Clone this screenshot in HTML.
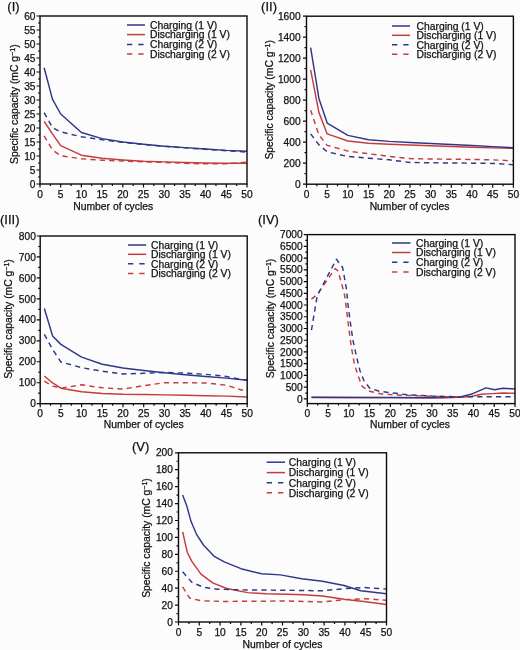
<!DOCTYPE html>
<html><head><meta charset="utf-8"><style>
html,body{margin:0;padding:0;background:#fcfcfc;-webkit-font-smoothing:antialiased;}
svg{display:block;will-change:transform;}
text{font-family:"Liberation Sans",sans-serif;fill:#111;stroke:#111;stroke-width:0.25px;}
</style></head><body>
<svg width="520" height="650" viewBox="0 0 520 650">
<rect width="520" height="650" fill="#fcfcfc"/>
<g><polyline points="44.14,121.28 52.42,133.88 60.7,145.64 81.4,155.16 102.1,158.24 122.8,159.92 143.5,161.32 164.2,161.88 184.9,162.44 205.6,163 226.3,163.28 247,163.28" fill="none" stroke="#c63c3c" stroke-width="1.45" stroke-linejoin="round"/><polyline points="44.14,67.8 52.42,99.16 60.7,114 81.4,132.48 102.1,138.64 122.8,142 143.5,144.24 164.2,146.2 184.9,147.6 205.6,149 226.3,150.4 247,151.24" fill="none" stroke="#303789" stroke-width="1.45" stroke-linejoin="round"/><polyline points="44.14,135.84 52.42,149.84 60.7,155.72 81.4,158.8 102.1,160.2 122.8,161.04 143.5,161.88 164.2,162.44 184.9,163.28 205.6,163.84 226.3,163.84 247,162.16" fill="none" stroke="#c63c3c" stroke-width="1.45" stroke-linejoin="round" stroke-dasharray="5.2,4.2"/><polyline points="44.14,112.6 52.42,127.44 60.7,131.92 81.4,136.68 102.1,139.76 122.8,142.28 143.5,144.52 164.2,146.2 184.9,147.88 205.6,149.28 226.3,150.68 247,152.08" fill="none" stroke="#303789" stroke-width="1.45" stroke-linejoin="round" stroke-dasharray="5.2,4.2"/><rect x="40" y="16" width="207" height="168" fill="none" stroke="#0a0a0a" stroke-width="1.4"/><path d="M40 184H36.5M40 177H38M40 170H36.5M40 163H38M40 156H36.5M40 149H38M40 142H36.5M40 135H38M40 128H36.5M40 121H38M40 114H36.5M40 107H38M40 100H36.5M40 93H38M40 86H36.5M40 79H38M40 72H36.5M40 65H38M40 58H36.5M40 51H38M40 44H36.5M40 37H38M40 30H36.5M40 23H38M40 16H36.5M40 184V187.5M50.35 184V186M60.7 184V187.5M71.05 184V186M81.4 184V187.5M91.75 184V186M102.1 184V187.5M112.45 184V186M122.8 184V187.5M133.15 184V186M143.5 184V187.5M153.85 184V186M164.2 184V187.5M174.55 184V186M184.9 184V187.5M195.25 184V186M205.6 184V187.5M215.95 184V186M226.3 184V187.5M236.65 184V186M247 184V187.5" stroke="#0a0a0a" stroke-width="1.2" fill="none"/><text x="35.5" y="187.62" text-anchor="end" font-size="10.2">0</text><text x="35.5" y="173.62" text-anchor="end" font-size="10.2">5</text><text x="35.5" y="159.62" text-anchor="end" font-size="10.2">10</text><text x="35.5" y="145.62" text-anchor="end" font-size="10.2">15</text><text x="35.5" y="131.62" text-anchor="end" font-size="10.2">20</text><text x="35.5" y="117.62" text-anchor="end" font-size="10.2">25</text><text x="35.5" y="103.62" text-anchor="end" font-size="10.2">30</text><text x="35.5" y="89.62" text-anchor="end" font-size="10.2">35</text><text x="35.5" y="75.62" text-anchor="end" font-size="10.2">40</text><text x="35.5" y="61.62" text-anchor="end" font-size="10.2">45</text><text x="35.5" y="47.62" text-anchor="end" font-size="10.2">50</text><text x="35.5" y="33.62" text-anchor="end" font-size="10.2">55</text><text x="35.5" y="19.62" text-anchor="end" font-size="10.2">60</text><text x="40" y="197.6" text-anchor="middle" font-size="10.2">0</text><text x="60.7" y="197.6" text-anchor="middle" font-size="10.2">5</text><text x="81.4" y="197.6" text-anchor="middle" font-size="10.2">10</text><text x="102.1" y="197.6" text-anchor="middle" font-size="10.2">15</text><text x="122.8" y="197.6" text-anchor="middle" font-size="10.2">20</text><text x="143.5" y="197.6" text-anchor="middle" font-size="10.2">25</text><text x="164.2" y="197.6" text-anchor="middle" font-size="10.2">30</text><text x="184.9" y="197.6" text-anchor="middle" font-size="10.2">35</text><text x="205.6" y="197.6" text-anchor="middle" font-size="10.2">40</text><text x="226.3" y="197.6" text-anchor="middle" font-size="10.2">45</text><text x="247" y="197.6" text-anchor="middle" font-size="10.2">50</text><text x="113.2" y="210" text-anchor="middle" font-size="10.35">Number of cycles</text><text transform="translate(17.9 104.2) rotate(-90)" text-anchor="middle" font-size="10.35">Specific capacity (mC g<tspan font-size="7.04" dy="-3.1">−1</tspan><tspan dy="3.1">)</tspan></text><text x="7.3" y="11.2" font-size="13">(I)</text><path d="M127 25H145" stroke="#303789" stroke-width="1.5"/><text x="150" y="28.73" font-size="10.35">Charging (1 V)</text><path d="M127 34.6H145" stroke="#c63c3c" stroke-width="1.5"/><text x="150" y="38.33" font-size="10.35">Discharging (1 V)</text><path d="M127 44.6H145" stroke="#303789" stroke-width="1.5" stroke-dasharray="5.3,6"/><text x="150" y="48.33" font-size="10.35">Charging (2 V)</text><path d="M127 54H145" stroke="#c63c3c" stroke-width="1.5" stroke-dasharray="5.3,6"/><text x="150" y="57.73" font-size="10.35">Discharging (2 V)</text></g>
<g><polyline points="310.64,69.85 318.91,112.38 327.19,133.9 347.88,141.04 368.57,143.25 389.26,144.19 409.95,145.03 430.64,145.77 451.33,146.5 472.02,147.24 492.71,147.87 513.4,148.29" fill="none" stroke="#c63c3c" stroke-width="1.45" stroke-linejoin="round"/><polyline points="310.64,47.7 318.91,98.41 327.19,123.09 347.88,135.38 368.57,139.68 389.26,141.36 409.95,142.41 430.64,143.46 451.33,144.51 472.02,145.56 492.71,146.61 513.4,147.76" fill="none" stroke="#303789" stroke-width="1.45" stroke-linejoin="round"/><polyline points="310.64,110.17 318.91,134.95 327.19,145.35 347.88,151.12 368.57,153.75 389.26,156.38 409.95,158.58 430.64,159 451.33,159.21 472.02,159.42 492.71,159.84 513.4,160.89" fill="none" stroke="#c63c3c" stroke-width="1.45" stroke-linejoin="round" stroke-dasharray="5.2,4.2"/><polyline points="310.64,133.9 318.91,144.72 327.19,151.86 347.88,156.48 368.57,158.16 389.26,159.84 409.95,162.46 430.64,162.78 451.33,162.99 472.02,163.2 492.71,163.41 513.4,164.67" fill="none" stroke="#303789" stroke-width="1.45" stroke-linejoin="round" stroke-dasharray="5.2,4.2"/><rect x="306.5" y="16.2" width="206.9" height="168" fill="none" stroke="#0a0a0a" stroke-width="1.4"/><path d="M306.5 184.2H303M306.5 173.7H304.5M306.5 163.2H303M306.5 152.7H304.5M306.5 142.2H303M306.5 131.7H304.5M306.5 121.2H303M306.5 110.7H304.5M306.5 100.2H303M306.5 89.7H304.5M306.5 79.2H303M306.5 68.7H304.5M306.5 58.2H303M306.5 47.7H304.5M306.5 37.2H303M306.5 26.7H304.5M306.5 16.2H303M306.5 184.2V187.7M316.85 184.2V186.2M327.19 184.2V187.7M337.53 184.2V186.2M347.88 184.2V187.7M358.23 184.2V186.2M368.57 184.2V187.7M378.91 184.2V186.2M389.26 184.2V187.7M399.6 184.2V186.2M409.95 184.2V187.7M420.29 184.2V186.2M430.64 184.2V187.7M440.99 184.2V186.2M451.33 184.2V187.7M461.67 184.2V186.2M472.02 184.2V187.7M482.36 184.2V186.2M492.71 184.2V187.7M503.05 184.2V186.2M513.4 184.2V187.7" stroke="#0a0a0a" stroke-width="1.2" fill="none"/><text x="300.6" y="187.82" text-anchor="end" font-size="10.2">0</text><text x="300.6" y="166.82" text-anchor="end" font-size="10.2">200</text><text x="300.6" y="145.82" text-anchor="end" font-size="10.2">400</text><text x="300.6" y="124.82" text-anchor="end" font-size="10.2">600</text><text x="300.6" y="103.82" text-anchor="end" font-size="10.2">800</text><text x="300.6" y="82.82" text-anchor="end" font-size="10.2">1000</text><text x="300.6" y="61.82" text-anchor="end" font-size="10.2">1200</text><text x="300.6" y="40.82" text-anchor="end" font-size="10.2">1400</text><text x="300.6" y="19.82" text-anchor="end" font-size="10.2">1600</text><text x="306.5" y="197.8" text-anchor="middle" font-size="10.2">0</text><text x="327.19" y="197.8" text-anchor="middle" font-size="10.2">5</text><text x="347.88" y="197.8" text-anchor="middle" font-size="10.2">10</text><text x="368.57" y="197.8" text-anchor="middle" font-size="10.2">15</text><text x="389.26" y="197.8" text-anchor="middle" font-size="10.2">20</text><text x="409.95" y="197.8" text-anchor="middle" font-size="10.2">25</text><text x="430.64" y="197.8" text-anchor="middle" font-size="10.2">30</text><text x="451.33" y="197.8" text-anchor="middle" font-size="10.2">35</text><text x="472.02" y="197.8" text-anchor="middle" font-size="10.2">40</text><text x="492.71" y="197.8" text-anchor="middle" font-size="10.2">45</text><text x="513.4" y="197.8" text-anchor="middle" font-size="10.2">50</text><text x="409.6" y="209.8" text-anchor="middle" font-size="10.35">Number of cycles</text><text transform="translate(272.9 99.8) rotate(-90)" text-anchor="middle" font-size="10.35">Specific capacity (mC g<tspan font-size="7.04" dy="-3.1">−1</tspan><tspan dy="3.1">)</tspan></text><text x="261.1" y="11.2" font-size="13">(II)</text><path d="M392 26H410" stroke="#303789" stroke-width="1.5"/><text x="416.5" y="29.73" font-size="10.35">Charging (1 V)</text><path d="M392 35.3H410" stroke="#c63c3c" stroke-width="1.5"/><text x="416.5" y="39.03" font-size="10.35">Discharging (1 V)</text><path d="M392 44.8H410" stroke="#303789" stroke-width="1.5" stroke-dasharray="5.3,6"/><text x="416.5" y="48.53" font-size="10.35">Charging (2 V)</text><path d="M392 54.3H410" stroke="#c63c3c" stroke-width="1.5" stroke-dasharray="5.3,6"/><text x="416.5" y="58.03" font-size="10.35">Discharging (2 V)</text></g>
<g><polyline points="44.34,376.03 52.62,382.95 60.9,388.19 81.6,391.75 102.3,393.43 123,394.27 143.7,394.48 164.4,394.9 185.1,395.31 205.8,395.73 226.5,396.15 247.2,396.99" fill="none" stroke="#c63c3c" stroke-width="1.45" stroke-linejoin="round"/><polyline points="44.34,308.53 52.62,335.99 60.9,344.38 81.6,357.16 102.3,364.29 123,368.06 143.7,370.58 164.4,372.68 185.1,374.77 205.8,376.45 226.5,378.13 247.2,380.22" fill="none" stroke="#303789" stroke-width="1.45" stroke-linejoin="round"/><polyline points="44.34,381.06 52.62,386.09 60.9,388.19 81.6,384.83 102.3,387.77 123,389.03 143.7,385.67 164.4,382.74 185.1,382.74 205.8,382.95 226.5,385.25 239.75,389.45 243.06,390.28" fill="none" stroke="#c63c3c" stroke-width="1.45" stroke-linejoin="round" stroke-dasharray="5.2,4.2"/><polyline points="44.34,334.31 52.62,349.41 60.9,361.98 81.6,367.64 102.3,371.21 123,373.93 143.7,373.3 164.4,372.47 185.1,373.09 205.8,374.35 226.5,376.45 238.92,378.96 247.2,380.22" fill="none" stroke="#303789" stroke-width="1.45" stroke-linejoin="round" stroke-dasharray="5.2,4.2"/><rect x="40.2" y="236" width="207" height="167.7" fill="none" stroke="#0a0a0a" stroke-width="1.4"/><path d="M40.2 403.7H36.7M40.2 393.22H38.2M40.2 382.74H36.7M40.2 372.26H38.2M40.2 361.77H36.7M40.2 351.29H38.2M40.2 340.81H36.7M40.2 330.33H38.2M40.2 319.85H36.7M40.2 309.37H38.2M40.2 298.89H36.7M40.2 288.41H38.2M40.2 277.92H36.7M40.2 267.44H38.2M40.2 256.96H36.7M40.2 246.48H38.2M40.2 236H36.7M40.2 403.7V407.2M50.55 403.7V405.7M60.9 403.7V407.2M71.25 403.7V405.7M81.6 403.7V407.2M91.95 403.7V405.7M102.3 403.7V407.2M112.65 403.7V405.7M123 403.7V407.2M133.35 403.7V405.7M143.7 403.7V407.2M154.05 403.7V405.7M164.4 403.7V407.2M174.75 403.7V405.7M185.1 403.7V407.2M195.45 403.7V405.7M205.8 403.7V407.2M216.15 403.7V405.7M226.5 403.7V407.2M236.85 403.7V405.7M247.2 403.7V407.2" stroke="#0a0a0a" stroke-width="1.2" fill="none"/><text x="35.8" y="407.32" text-anchor="end" font-size="10.2">0</text><text x="35.8" y="386.36" text-anchor="end" font-size="10.2">100</text><text x="35.8" y="365.4" text-anchor="end" font-size="10.2">200</text><text x="35.8" y="344.43" text-anchor="end" font-size="10.2">300</text><text x="35.8" y="323.47" text-anchor="end" font-size="10.2">400</text><text x="35.8" y="302.51" text-anchor="end" font-size="10.2">500</text><text x="35.8" y="281.55" text-anchor="end" font-size="10.2">600</text><text x="35.8" y="260.58" text-anchor="end" font-size="10.2">700</text><text x="35.8" y="239.62" text-anchor="end" font-size="10.2">800</text><text x="40.2" y="417.3" text-anchor="middle" font-size="10.2">0</text><text x="60.9" y="417.3" text-anchor="middle" font-size="10.2">5</text><text x="81.6" y="417.3" text-anchor="middle" font-size="10.2">10</text><text x="102.3" y="417.3" text-anchor="middle" font-size="10.2">15</text><text x="123" y="417.3" text-anchor="middle" font-size="10.2">20</text><text x="143.7" y="417.3" text-anchor="middle" font-size="10.2">25</text><text x="164.4" y="417.3" text-anchor="middle" font-size="10.2">30</text><text x="185.1" y="417.3" text-anchor="middle" font-size="10.2">35</text><text x="205.8" y="417.3" text-anchor="middle" font-size="10.2">40</text><text x="226.5" y="417.3" text-anchor="middle" font-size="10.2">45</text><text x="247.2" y="417.3" text-anchor="middle" font-size="10.2">50</text><text x="143.7" y="427.5" text-anchor="middle" font-size="10.35">Number of cycles</text><text transform="translate(11.7 319) rotate(-90)" text-anchor="middle" font-size="10.35">Specific capacity (mC g<tspan font-size="7.04" dy="-3.1">−1</tspan><tspan dy="3.1">)</tspan></text><text x="0" y="224.3" font-size="13">(III)</text><path d="M128 245H146.2" stroke="#303789" stroke-width="1.5"/><text x="151" y="248.73" font-size="10.35">Charging (1 V)</text><path d="M128 254.3H146.2" stroke="#c63c3c" stroke-width="1.5"/><text x="151" y="258.03" font-size="10.35">Discharging (1 V)</text><path d="M128 263.8H146.2" stroke="#303789" stroke-width="1.5" stroke-dasharray="5.3,6"/><text x="151" y="267.53" font-size="10.35">Charging (2 V)</text><path d="M128 273.6H146.2" stroke="#c63c3c" stroke-width="1.5" stroke-dasharray="5.3,6"/><text x="151" y="277.33" font-size="10.35">Discharging (2 V)</text></g>
<g><polyline points="311.45,397.45 348.84,397.54 390.38,397.61 430.26,397.85 452.69,397.5 470.97,396.51 481.35,394.31 492.15,393.6 502.95,393.01 515,393.27" fill="none" stroke="#c63c3c" stroke-width="1.45" stroke-linejoin="round"/><polyline points="311.45,397.31 348.84,397.4 390.38,397.54 430.26,397.73 444.38,397.5 460.17,397 470.97,394.31 478.44,391.11 485.92,387.9 494.65,389.7 502.95,388.2 515,389.05" fill="none" stroke="#303789" stroke-width="1.45" stroke-linejoin="round"/><polyline points="311.45,299.15 316.85,294.92 335.13,268.63 338.04,270.98 344.27,293.19 346.14,306.71 348.63,327.01 351.12,345.6 354.45,364.31 358.19,376.11 362.13,386.3 369.61,391.3 380.83,393.91 394.95,394.92 407,395.38 419.46,395.85 431.92,396.32 444.38,396.68 456.84,396.79 465.15,396.72" fill="none" stroke="#c63c3c" stroke-width="1.45" stroke-linejoin="round" stroke-dasharray="5.2,4.2"/><polyline points="311.45,330.13 317.27,295.63 336.38,259.25 342.61,267.46 346.56,289.76 347.8,303.3 350.5,323.61 352.99,340.6 356.73,357.5 360.06,371 364.21,381.21 369.61,388.01 379.16,391.3 395.36,393.27 407.41,394.8 419.46,395.43 431.92,396.09 444.38,396.44 456.84,396.68 481.77,396.7 515,396.7" fill="none" stroke="#303789" stroke-width="1.45" stroke-linejoin="round" stroke-dasharray="5.2,4.2"/><rect x="307.3" y="234.6" width="207.7" height="169" fill="none" stroke="#0a0a0a" stroke-width="1.4"/><path d="M307.3 398.91H303.8M307.3 393.04H305.3M307.3 387.17H303.8M307.3 381.3H305.3M307.3 375.43H303.8M307.3 369.57H305.3M307.3 363.7H303.8M307.3 357.83H305.3M307.3 351.96H303.8M307.3 346.09H305.3M307.3 340.23H303.8M307.3 334.36H305.3M307.3 328.49H303.8M307.3 322.62H305.3M307.3 316.75H303.8M307.3 310.88H305.3M307.3 305.02H303.8M307.3 299.15H305.3M307.3 293.28H303.8M307.3 287.41H305.3M307.3 281.54H303.8M307.3 275.68H305.3M307.3 269.81H303.8M307.3 263.94H305.3M307.3 258.07H303.8M307.3 252.2H305.3M307.3 246.34H303.8M307.3 240.47H305.3M307.3 234.6H303.8M307.3 403.6V407.1M317.69 403.6V405.6M328.07 403.6V407.1M338.46 403.6V405.6M348.84 403.6V407.1M359.23 403.6V405.6M369.61 403.6V407.1M380 403.6V405.6M390.38 403.6V407.1M400.76 403.6V405.6M411.15 403.6V407.1M421.54 403.6V405.6M431.92 403.6V407.1M442.31 403.6V405.6M452.69 403.6V407.1M463.08 403.6V405.6M473.46 403.6V407.1M483.85 403.6V405.6M494.23 403.6V407.1M504.62 403.6V405.6M515 403.6V407.1" stroke="#0a0a0a" stroke-width="1.2" fill="none"/><text x="302.7" y="402.53" text-anchor="end" font-size="10.2">0</text><text x="302.7" y="390.79" text-anchor="end" font-size="10.2">500</text><text x="302.7" y="379.05" text-anchor="end" font-size="10.2">1000</text><text x="302.7" y="367.32" text-anchor="end" font-size="10.2">1500</text><text x="302.7" y="355.58" text-anchor="end" font-size="10.2">2000</text><text x="302.7" y="343.85" text-anchor="end" font-size="10.2">2500</text><text x="302.7" y="332.11" text-anchor="end" font-size="10.2">3000</text><text x="302.7" y="320.37" text-anchor="end" font-size="10.2">3500</text><text x="302.7" y="308.64" text-anchor="end" font-size="10.2">4000</text><text x="302.7" y="296.9" text-anchor="end" font-size="10.2">4500</text><text x="302.7" y="285.17" text-anchor="end" font-size="10.2">5000</text><text x="302.7" y="273.43" text-anchor="end" font-size="10.2">5500</text><text x="302.7" y="261.69" text-anchor="end" font-size="10.2">6000</text><text x="302.7" y="249.96" text-anchor="end" font-size="10.2">6500</text><text x="302.7" y="238.22" text-anchor="end" font-size="10.2">7000</text><text x="307.3" y="417.2" text-anchor="middle" font-size="10.2">0</text><text x="328.07" y="417.2" text-anchor="middle" font-size="10.2">5</text><text x="348.84" y="417.2" text-anchor="middle" font-size="10.2">10</text><text x="369.61" y="417.2" text-anchor="middle" font-size="10.2">15</text><text x="390.38" y="417.2" text-anchor="middle" font-size="10.2">20</text><text x="411.15" y="417.2" text-anchor="middle" font-size="10.2">25</text><text x="431.92" y="417.2" text-anchor="middle" font-size="10.2">30</text><text x="452.69" y="417.2" text-anchor="middle" font-size="10.2">35</text><text x="473.46" y="417.2" text-anchor="middle" font-size="10.2">40</text><text x="494.23" y="417.2" text-anchor="middle" font-size="10.2">45</text><text x="515" y="417.2" text-anchor="middle" font-size="10.2">50</text><text x="410" y="427.5" text-anchor="middle" font-size="10.35">Number of cycles</text><text transform="translate(273.9 318.5) rotate(-90)" text-anchor="middle" font-size="10.35">Specific capacity (mC g<tspan font-size="7.04" dy="-3.1">−1</tspan><tspan dy="3.1">)</tspan></text><text x="258" y="224.2" font-size="13">(IV)</text><path d="M392 243H410.5" stroke="#303789" stroke-width="1.5"/><text x="416" y="246.73" font-size="10.35">Charging (1 V)</text><path d="M392 252.5H410.5" stroke="#c63c3c" stroke-width="1.5"/><text x="416" y="256.23" font-size="10.35">Discharging (1 V)</text><path d="M392 262.3H410.5" stroke="#303789" stroke-width="1.5" stroke-dasharray="5.3,6"/><text x="416" y="266.03" font-size="10.35">Charging (2 V)</text><path d="M392 272H410.5" stroke="#c63c3c" stroke-width="1.5" stroke-dasharray="5.3,6"/><text x="416" y="275.73" font-size="10.35">Discharging (2 V)</text></g>
<g><polyline points="182.66,531.9 187.24,552.21 191.81,561.43 200.96,574.2 212.61,582.91 226.76,588.5 247.56,592.64 265.86,593.83 286.66,594.25 303.3,594.67 322.44,596.03 344.07,599.16 365.7,601.7 386.5,604.49" fill="none" stroke="#c63c3c" stroke-width="1.45" stroke-linejoin="round"/><polyline points="182.66,495.1 186.82,506.1 190.98,521.33 196.39,534.02 203.46,545.01 213.86,556.01 224.26,561.93 240.9,568.7 261.7,573.78 280.42,574.88 301.64,578.68 322.44,581.22 344.07,585.45 360.71,590.78 386.5,593.83" fill="none" stroke="#303789" stroke-width="1.45" stroke-linejoin="round"/><polyline points="182.66,586.89 189.52,597.97 200.96,600.77 224.26,601.44 286.66,601.02 322.44,601.95 344.07,599.67 364.87,598.74 386.5,600.26" fill="none" stroke="#c63c3c" stroke-width="1.45" stroke-linejoin="round" stroke-dasharray="5.2,4.2"/><polyline points="182.66,571.83 191.81,582.24 203.46,587.31 217.19,589.18 240.9,589.85 286.66,590.27 322.44,590.78 344.07,588.67 364.87,587.57 386.5,589.09" fill="none" stroke="#303789" stroke-width="1.45" stroke-linejoin="round" stroke-dasharray="5.2,4.2"/><rect x="178.5" y="452.8" width="208" height="169.2" fill="none" stroke="#0a0a0a" stroke-width="1.4"/><path d="M178.5 622H175M178.5 613.54H176.5M178.5 605.08H175M178.5 596.62H176.5M178.5 588.16H175M178.5 579.7H176.5M178.5 571.24H175M178.5 562.78H176.5M178.5 554.32H175M178.5 545.86H176.5M178.5 537.4H175M178.5 528.94H176.5M178.5 520.48H175M178.5 512.02H176.5M178.5 503.56H175M178.5 495.1H176.5M178.5 486.64H175M178.5 478.18H176.5M178.5 469.72H175M178.5 461.26H176.5M178.5 452.8H175M178.5 622V625.5M188.9 622V624M199.3 622V625.5M209.7 622V624M220.1 622V625.5M230.5 622V624M240.9 622V625.5M251.3 622V624M261.7 622V625.5M272.1 622V624M282.5 622V625.5M292.9 622V624M303.3 622V625.5M313.7 622V624M324.1 622V625.5M334.5 622V624M344.9 622V625.5M355.3 622V624M365.7 622V625.5M376.1 622V624M386.5 622V625.5" stroke="#0a0a0a" stroke-width="1.2" fill="none"/><text x="172.9" y="625.62" text-anchor="end" font-size="10.2">0</text><text x="172.9" y="608.7" text-anchor="end" font-size="10.2">20</text><text x="172.9" y="591.78" text-anchor="end" font-size="10.2">40</text><text x="172.9" y="574.86" text-anchor="end" font-size="10.2">60</text><text x="172.9" y="557.94" text-anchor="end" font-size="10.2">80</text><text x="172.9" y="541.02" text-anchor="end" font-size="10.2">100</text><text x="172.9" y="524.1" text-anchor="end" font-size="10.2">120</text><text x="172.9" y="507.18" text-anchor="end" font-size="10.2">140</text><text x="172.9" y="490.26" text-anchor="end" font-size="10.2">160</text><text x="172.9" y="473.34" text-anchor="end" font-size="10.2">180</text><text x="172.9" y="456.42" text-anchor="end" font-size="10.2">200</text><text x="178.5" y="635.6" text-anchor="middle" font-size="10.2">0</text><text x="199.3" y="635.6" text-anchor="middle" font-size="10.2">5</text><text x="220.1" y="635.6" text-anchor="middle" font-size="10.2">10</text><text x="240.9" y="635.6" text-anchor="middle" font-size="10.2">15</text><text x="261.7" y="635.6" text-anchor="middle" font-size="10.2">20</text><text x="282.5" y="635.6" text-anchor="middle" font-size="10.2">25</text><text x="303.3" y="635.6" text-anchor="middle" font-size="10.2">30</text><text x="324.1" y="635.6" text-anchor="middle" font-size="10.2">35</text><text x="344.9" y="635.6" text-anchor="middle" font-size="10.2">40</text><text x="365.7" y="635.6" text-anchor="middle" font-size="10.2">45</text><text x="386.5" y="635.6" text-anchor="middle" font-size="10.2">50</text><text x="282.5" y="648" text-anchor="middle" font-size="10.35">Number of cycles</text><text transform="translate(149.8 538) rotate(-90)" text-anchor="middle" font-size="10.35">Specific capacity (mC g<tspan font-size="7.04" dy="-3.1">−1</tspan><tspan dy="3.1">)</tspan></text><text x="131.9" y="451.1" font-size="13">(V)</text><path d="M266.7 462.2H285" stroke="#303789" stroke-width="1.5"/><text x="288.7" y="465.93" font-size="10.35">Charging (1 V)</text><path d="M266.7 472.6H285" stroke="#c63c3c" stroke-width="1.5"/><text x="288.7" y="476.33" font-size="10.35">Discharging (1 V)</text><path d="M266.7 482.8H285" stroke="#303789" stroke-width="1.5" stroke-dasharray="5.3,6"/><text x="288.7" y="486.53" font-size="10.35">Charging (2 V)</text><path d="M266.7 492.8H285" stroke="#c63c3c" stroke-width="1.5" stroke-dasharray="5.3,6"/><text x="288.7" y="496.53" font-size="10.35">Discharging (2 V)</text></g>
</svg>
</body></html>
